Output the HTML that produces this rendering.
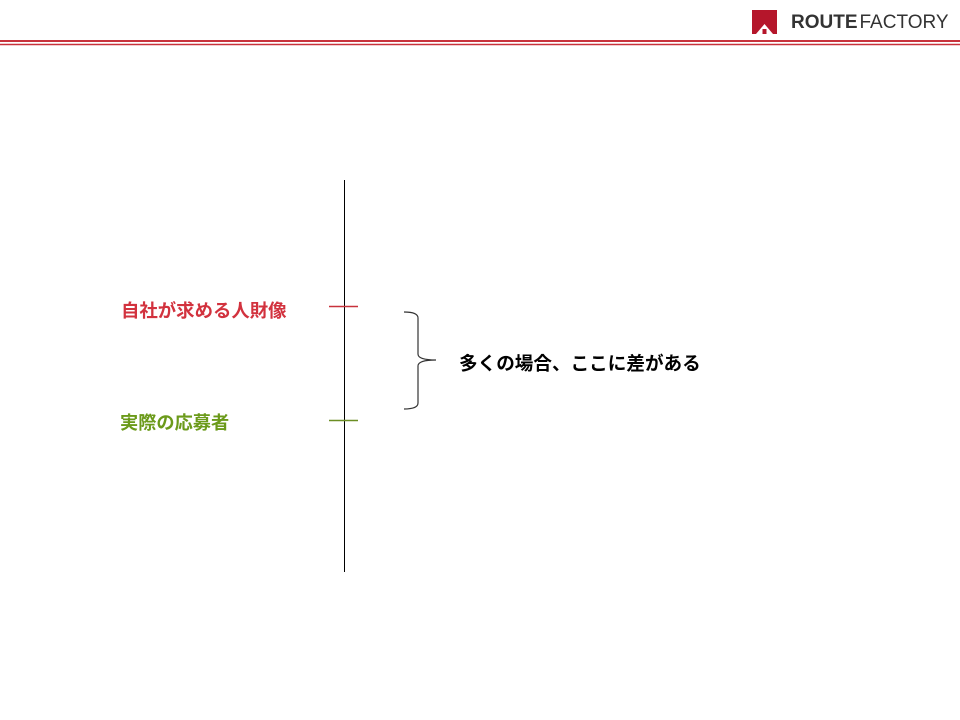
<!DOCTYPE html>
<html><head><meta charset="utf-8"><style>
body{margin:0;width:960px;height:720px;background:#fff;position:relative;overflow:hidden;font-family:"Liberation Sans","Noto Sans CJK JP",sans-serif}
.t{position:absolute;white-space:nowrap;font-weight:bold}
</style></head><body>
<svg width="960" height="720" style="position:absolute;left:0;top:0">
<line x1="0" y1="41" x2="960" y2="41" stroke="#c8323c" stroke-width="2"/>
<line x1="0" y1="44.5" x2="960" y2="44.5" stroke="#c8323c" stroke-width="1.5"/>
<rect x="752" y="10" width="25" height="24" fill="#b5162b"/>
<path d="M756 34 L764.5 24 L773 34 Z" fill="#fff"/>
<rect x="762.5" y="29" width="4" height="5" fill="#b5162b"/>
<line x1="344.5" y1="180" x2="344.5" y2="572" stroke="#000" stroke-width="1"/>
<line x1="329" y1="306.5" x2="358" y2="306.5" stroke="#c8323c" stroke-width="1.5"/>
<line x1="329" y1="420.5" x2="358" y2="420.5" stroke="#6b8e23" stroke-width="1.5"/>
<path d="M404 312 Q418 312 418 318 L418 354 Q418 360 436 360 Q418 360 418 366 L418 403 Q418 409 404 409" fill="none" stroke="#333" stroke-width="1.2"/>
</svg>
<div class="t" style="left:791px;top:12px;font-size:19px;color:#333">ROUTE<span style="font-weight:normal;margin-left:2px">FACTORY</span></div>
<div class="t" style="left:121px;top:297px;font-size:18.4px;color:#d2323e">自社が求める人財像</div>
<div class="t" style="left:120px;top:409px;font-size:18.2px;color:#6b9a1a">実際の応募者</div>
<div class="t" style="left:459px;top:349px;font-size:18.6px;color:#000">多くの場合、ここに差がある</div>
</body></html>
